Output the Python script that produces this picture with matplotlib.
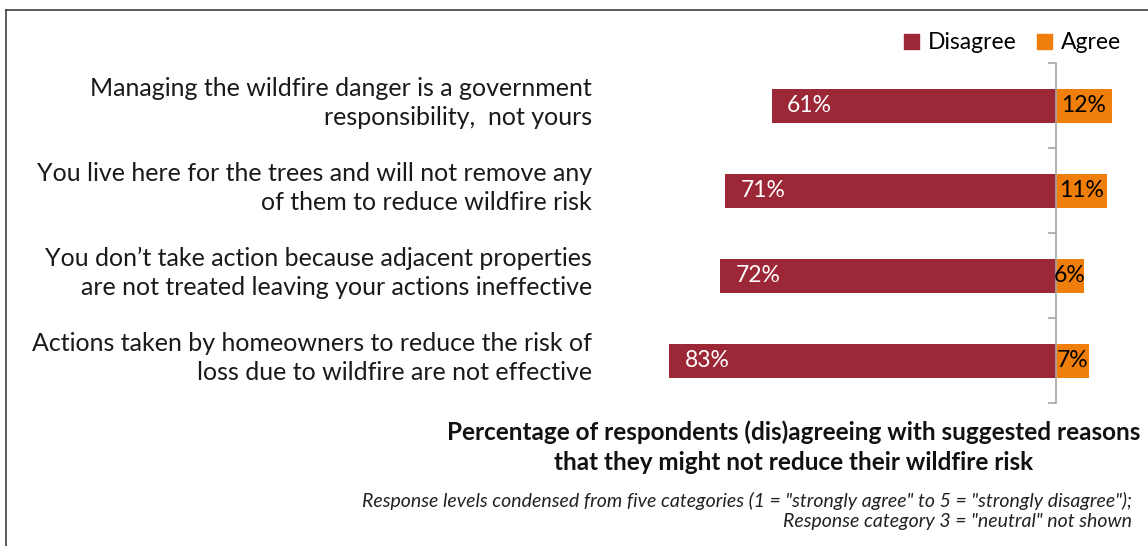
import matplotlib
matplotlib.use('Agg')
import matplotlib.pyplot as plt
import matplotlib.transforms as mtransforms
from matplotlib.lines import Line2D
from matplotlib.patches import Patch
import numpy as np

plt.rcParams['font.family'] = ['Lato', 'DejaVu Sans']

statements = [
    "Managing the wildfire danger is a government\nresponsibility,  not yours",
    "You live here for the trees and will not remove any\nof them to reduce wildfire risk",
    "You don\u2019t take action because adjacent properties\nare not treated leaving your actions ineffective",
    "Actions taken by homeowners to reduce the risk of\nloss due to wildfire are not effective",
]
disagree = [61, 71, 72, 83]
agree = [12, 11, 6, 7]
series_names = ["Disagree", "Agree"]

c_dis = '#9C2736'
c_agr = '#EF7F0A'

W, H = 1148, 546
fig = plt.figure(figsize=(W / 100, H / 100), dpi=100)

# axes placed so that the zero line sits where the original has it
ax_l, ax_r, ax_t, ax_b = 600, 1140, 63, 403
ax = fig.add_axes([ax_l / W, 1 - ax_b / H, (ax_r - ax_l) / W, (ax_b - ax_t) / H])
px_per_pct = 4.66
ax.set_xlim(-(1056 - ax_l) / px_per_pct, (ax_r - 1056) / px_per_pct)
ax.set_ylim(len(statements), 0)

y = np.arange(len(statements)) + 0.5
ax.barh(y, [-d for d in disagree], height=0.4, color=c_dis)
ax.barh(y, agree, height=0.4, color=c_agr)

for yi, d, a in zip(y, disagree, agree):
    ax.annotate(f"{d}%", (-d, yi), xytext=(11, 0), textcoords='offset points',
                ha='left', va='center', color='white', fontsize=16.5)
    ax.text(a / 2, yi, f"{a}%", ha='center', va='center', color='black', fontsize=16.5)

for s in ['top', 'right', 'bottom']:
    ax.spines[s].set_visible(False)
ax.spines['left'].set_position(('data', 0))
ax.spines['left'].set_color('#A6A6A6')
ax.spines['left'].set_linewidth(1.2)
ax.set_xticks([])
ax.set_yticks(np.arange(len(statements) + 1))
ax.set_yticklabels([])
ax.tick_params(axis='y', direction='out', length=6, color='#A6A6A6', width=1.2)

# statement labels on the left
trans = mtransforms.blended_transform_factory(fig.transFigure, ax.transData)
for yi, s in zip(y, statements):
    ax.text(592 / W, yi - 0.03, s, transform=trans, ha='right', va='center',
            fontsize=18, color='#1a1a1a', linespacing=1.3)

handles = [Patch(color=c_dis), Patch(color=c_agr)]
fig.legend(handles, series_names, loc='center right', bbox_to_anchor=(1133 / W, 1 - 43 / H),
           ncol=2, frameon=False, fontsize=16.5, handlelength=0.65, handleheight=0.65,
           handletextpad=0.4, columnspacing=0.9, borderpad=0)

fig.text(794 / W, 1 - 447 / H,
         "Percentage of respondents (dis)agreeing with suggested reasons\n"
         "that they might not reduce their wildfire risk",
         ha='center', va='center', fontsize=17.5, fontweight='bold', linespacing=1.35,
         color='#111111')
fig.text(1132 / W, 1 - 511 / H,
         'Response levels condensed from five categories (1 = "strongly agree" to 5 = "strongly disagree");\n'
         'Response category 3 = "neutral" not shown',
         ha='right', va='center', fontsize=14, style='italic', linespacing=1.22,
         color='#222222')

# frame lines of the original screenshot
fig.add_artist(Line2D([6 / W, 6 / W], [0, 1 - 10 / H], transform=fig.transFigure,
                      color='#404040', lw=1.2))
fig.add_artist(Line2D([6 / W, 1], [1 - 10 / H, 1 - 10 / H], transform=fig.transFigure,
                      color='#404040', lw=1.2))

fig.savefig('out.png', dpi=100)
